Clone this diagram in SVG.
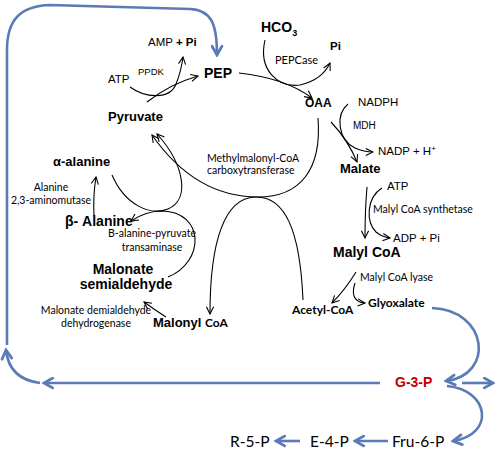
<svg xmlns="http://www.w3.org/2000/svg" width="498" height="453" viewBox="0 0 498 453">
<style>
.b{font-family:"Liberation Sans",Arial,sans-serif;font-weight:bold;fill:#000}
.a{font-family:"Liberation Sans",Arial,sans-serif;fill:#000}
.c{font-family:Lato,"Open Sans",sans-serif;fill:#000}
.cb{font-family:Lato,"Open Sans",sans-serif;font-weight:bold;fill:#000}
.k{fill:none;stroke:#000;stroke-width:1.1}
.bl{fill:none;stroke:#5a7bb5;stroke-width:2.6}
</style>
<defs>
<marker id="ah" markerUnits="userSpaceOnUse" viewBox="0 0 10 10" refX="9" refY="5" markerWidth="9" markerHeight="9" orient="auto">
<path d="M1,1 L9,5 L1,9" fill="none" stroke="#000" stroke-width="1.2"/>
</marker>
<marker id="bh" markerUnits="userSpaceOnUse" viewBox="0 0 12 12" refX="10" refY="6" markerWidth="13" markerHeight="13" orient="auto">
<path d="M2,1.5 L10,6 L2,10.5" fill="none" stroke="#5a7bb5" stroke-width="2.6" stroke-linecap="round"/>
</marker>
</defs>

<g id="connectors">
<path class="bl" d="M380,383 L44,383" marker-end="url(#bh)"/>
<path class="bl" d="M40,383 Q9,379 6,350" marker-end="url(#bh)"/>
<path class="bl" d="M7,345 L7,50 C7,20 20,6 50,5 L190,9 C212,10 217,25 217,55" marker-end="url(#bh)"/>
<path class="bl" d="M432,308 C488,310 495,375 446,381" marker-end="url(#bh)"/>
<path class="bl" d="M462,383 L493,383" marker-end="url(#bh)"/>
<path class="bl" d="M447,386 C490,390 495,435 453,441" marker-end="url(#bh)"/>
<path class="bl" d="M388,441 L355,441" marker-end="url(#bh)"/>
<path class="bl" d="M300,441 L276,441" marker-end="url(#bh)"/>
<path class="k" d="M147,102 Q170,84 198,76" marker-end="url(#ah)"/>
<path class="k" d="M130,87 C145,98 170,100 176,84 Q181,72 183,57" marker-end="url(#ah)"/>
<path class="k" d="M239,73 Q285,78 312,98" marker-end="url(#ah)"/>
<path class="k" d="M265,40 C258,70 278,88 300,85 Q322,80 330,63" marker-end="url(#ah)"/>
<path class="k" d="M331,122 Q348,140 357,162" marker-end="url(#ah)"/>
<path class="k" d="M348,104 C335,115 338,140 355,148 Q364,152 373,152" marker-end="url(#ah)"/>
<path class="k" d="M367,187 Q365,210 365,238" marker-end="url(#ah)"/>
<path class="k" d="M382,188 C366,198 366,222 376,232 Q382,237 390,238" marker-end="url(#ah)"/>
<path class="k" d="M356,272 Q345,290 332,303" marker-end="url(#ah)"/>
<path class="k" d="M355,283 C352,292 352,302 365,303" marker-end="url(#ah)"/>
<path class="k" d="M318,118 C322,170 300,197 258,197 C215,197 180,175 152,135" marker-end="url(#ah)"/>
<path class="k" d="M303,300 C300,230 285,196 255,197 C225,198 210,240 210,314" marker-end="url(#ah)"/>
<path class="k" d="M112,175 C125,205 150,216 168,209 C190,200 185,165 157,134" marker-end="url(#ah)"/>
<path class="k" d="M168,277 C205,262 205,212 162,211 C150,211 140,215 131,221" marker-end="url(#ah)"/>
<path class="k" d="M94,216 Q93,195 96,177" marker-end="url(#ah)"/>
<path class="k" d="M166,317 Q155,310 144,302" marker-end="url(#ah)"/>
</g>

<g id="n-hco3"><text class="b" x="261" y="32" font-size="14">HCO<tspan font-size="9" dy="4">3</tspan></text></g>
<g id="n-pi"><text class="b" x="330" y="50" font-size="11.5">Pi</text></g>
<g id="n-pepcase"><text class="c" x="275" y="64" font-size="11">PEPCase</text></g>
<g id="n-pep"><text class="b" x="204" y="78" font-size="14">PEP</text></g>
<g id="n-amp"><text class="a" x="148" y="46" font-size="11.5">AMP <tspan font-weight="bold">+ Pi</tspan></text></g>
<g id="n-ppdk"><text class="a" x="138" y="75" font-size="9.5">PPDK</text></g>
<g id="n-atp1"><text class="a" x="108" y="83" font-size="11.5">ATP</text></g>
<g id="n-pyruvate"><text class="b" x="108" y="121" font-size="13">Pyruvate</text></g>
<g id="n-oaa"><text class="b" x="305" y="107" font-size="12">OAA</text></g>
<g id="n-nadph"><text class="a" x="358" y="106" font-size="11.5">NADPH</text></g>
<g id="n-mdh"><text class="a" x="353" y="129" font-size="10">MDH</text></g>
<g id="n-nadp"><text class="a" x="378" y="155" font-size="11.5">NADP + H<tspan font-size="8" dy="-4">+</tspan></text></g>
<g id="n-malate"><text class="b" x="340" y="173" font-size="13">Malate</text></g>
<g id="n-atp2"><text class="a" x="387" y="190" font-size="11.5">ATP</text></g>
<g id="n-mcs"><text class="c" x="373" y="213" font-size="10.5">Malyl CoA synthetase</text></g>
<g id="n-adp"><text class="a" x="393" y="242" font-size="11.5">ADP + Pi</text></g>
<g id="n-malylcoa"><text class="b" x="333" y="257" font-size="14">Malyl CoA</text></g>
<g id="n-lyase"><text class="c" x="360" y="281" font-size="10.5">Malyl CoA lyase</text></g>
<g id="n-acetyl"><text class="cb" x="292" y="314" font-size="12">Acetyl-CoA</text></g>
<g id="n-glyox"><text class="cb" x="368" y="307" font-size="12">Glyoxalate</text></g>
<g id="n-mmcoa"><text class="c" x="207" y="162" font-size="10.5">Methylmalonyl-CoA</text><text class="c" x="207" y="174" font-size="10.5">carboxytransferase</text></g>
<g id="n-aala"><text class="b" x="53" y="166" font-size="13">α-alanine</text></g>
<g id="n-aam"><text class="c" x="51" y="191" font-size="10.5" text-anchor="middle">Alanine</text><text class="c" x="51" y="204" font-size="10.5" text-anchor="middle">2,3-aminomutase</text></g>
<g id="n-bala"><text class="b" x="65" y="226" font-size="14">β- Alanine</text></g>
<g id="n-bapt"><text class="c" x="152" y="237" font-size="10.5" text-anchor="middle">Β-alanine-pyruvate</text><text class="c" x="152" y="251" font-size="10.5" text-anchor="middle">transaminase</text></g>
<g id="n-msa"><text class="b" x="123" y="274" font-size="14" text-anchor="middle">Malonate</text><text class="b" x="126" y="289" font-size="14" text-anchor="middle">semialdehyde</text></g>
<g id="n-mdd"><text class="c" x="96" y="314" font-size="10.5" text-anchor="middle">Malonate demialdehyde</text><text class="c" x="96" y="327" font-size="10.5" text-anchor="middle">dehydrogenase</text></g>
<g id="n-malonyl"><text class="b" x="153" y="327" font-size="13">Malonyl <tspan class="cb" font-size="12">CoA</tspan></text></g>
<g id="n-g3p"><text class="b" x="395" y="387" font-size="14" style="fill:#c00000">G-3-P</text></g>
<g id="n-f6p"><text class="c" x="392" y="447" font-size="15.5">Fru-6-P</text></g>
<g id="n-e4p"><text class="c" x="310" y="447" font-size="15.5">E-4-P</text></g>
<g id="n-r5p"><text class="c" x="230" y="447" font-size="15.5">R-5-P</text></g>
</svg>
